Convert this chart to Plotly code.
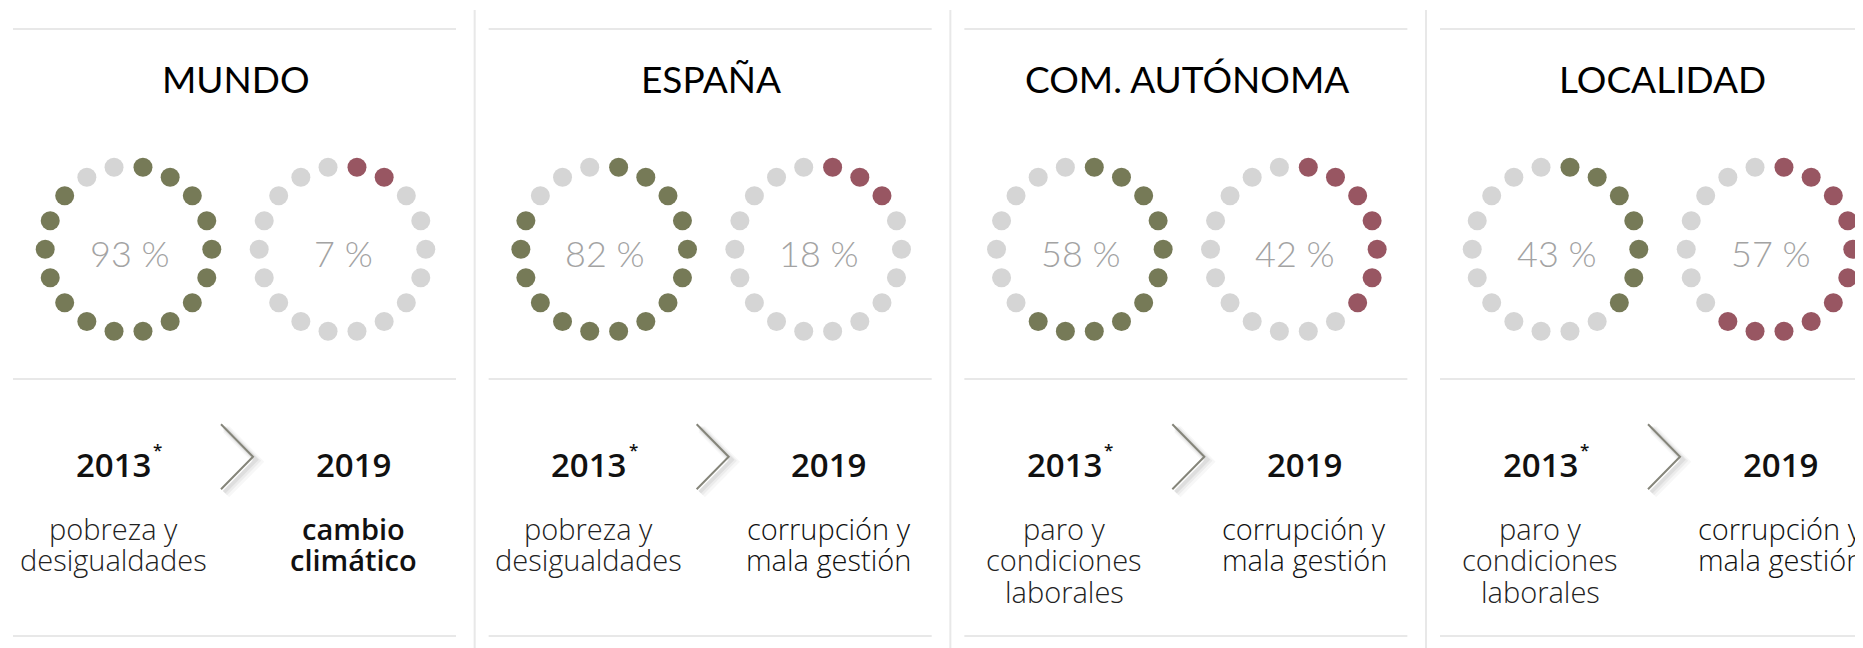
import math
import plotly.graph_objects as go

# ---------------- data ----------------
regions = ["MUNDO", "ESPAÑA", "COM. AUTÓNOMA", "LOCALIDAD"]
pct_2013 = [93, 82, 58, 43]
pct_2019 = [7, 18, 42, 57]
dots_2013 = [16, 15, 11, 7]     # filled dots (of 18) in the 2013 ring
dots_2019 = [2, 3, 7, 11]       # filled dots (of 18) in the 2019 ring
total_dots = 18
year_from = "2013"
year_to = "2019"
footnote_mark = "*"
issue_2013 = [
    ["pobreza y", "desigualdades"],
    ["pobreza y", "desigualdades"],
    ["paro y", "condiciones", "laborales"],
    ["paro y", "condiciones", "laborales"],
]
issue_2019 = [
    ["cambio", "climático"],
    ["corrupción y", "mala gestión"],
    ["corrupción y", "mala gestión"],
    ["corrupción y", "mala gestión"],
]
issue_2019_bold = [True, False, False, False]

# ---------------- style / layout ----------------
PAGE_W, PAGE_H = 1863, 648
BODY_MARGIN = 8   # default browser body margin around the plot div
GREEN = "#767a57"
RED = "#985662"
GREY = "#d5d5d5"
RULE = "#e8e8e8"
ARROW = "#85857a"

panel_x0 = [13 + i * 475.67 for i in range(4)]
panel_w = 443
ring_dx = (115.5, 329.5)
ring_cy = 249.3
ring_r = 83.3
dot_size = 19

fig = go.Figure()

def ring_points(cx, cy, n_total):
    xs, ys = [], []
    for k in range(n_total):
        a = math.radians(10 + 20 * k)
        xs.append(cx + ring_r * math.sin(a))
        ys.append(cy - ring_r * math.cos(a))
    return xs, ys

shapes = []
ann = []

for i, reg in enumerate(regions):
    x0 = panel_x0[i]
    # rings
    for j, (n_fill, col, pct) in enumerate(
        [(dots_2013[i], GREEN, pct_2013[i]), (dots_2019[i], RED, pct_2019[i])]
    ):
        cx = x0 + ring_dx[j]
        xs, ys = ring_points(cx, ring_cy, total_dots)
        colors = [col if k < n_fill else GREY for k in range(total_dots)]
        fig.add_trace(go.Scatter(
            x=xs, y=ys, mode="markers",
            marker=dict(size=dot_size, color=colors, line=dict(width=0)),
            hoverinfo="skip", showlegend=False,
        ))
        ann.append(dict(x=cx + 1, y=253, text=f"{pct} %", showarrow=False,
                        xanchor="center", yanchor="middle",
                        font=dict(family="Lato", size=36, color="#a3a3a3", weight=300)))
    # title
    ann.append(dict(x=x0 + panel_w / 2 + 1, y=78, text=reg, showarrow=False,
                    xanchor="center", yanchor="middle",
                    font=dict(family="Lato", size=37, color="#000000", weight=400)))
    # rules
    for yy in (29, 379, 636):
        shapes.append(dict(type="line", x0=x0, x1=x0 + panel_w, y0=yy, y1=yy,
                           line=dict(color=RULE, width=2)))
    if i > 0:
        shapes.append(dict(type="line", x0=x0 - 14, x1=x0 - 14, y0=10, y1=PAGE_H,
                           line=dict(color=RULE, width=2)))
    # arrow chevron with soft shadow
    ax0, ax1, aym, ah = x0 + 208, x0 + 240, 456.7, 32.5
    for off, w, op in [(5, 9, 0.03), (4, 6, 0.045), (3, 4, 0.06)]:
        shapes.append(dict(type="path",
                           path=f"M {ax0+off},{aym-ah+off} L {ax1+off},{aym+off} L {ax0+off},{aym+ah+off}",
                           line=dict(color=f"rgba(0,0,0,{op})", width=w)))
    shapes.append(dict(type="path",
                       path=f"M {ax0},{aym-ah} L {ax1},{aym} L {ax0},{aym+ah}",
                       line=dict(color=ARROW, width=2)))
    # years
    lx = x0 + 100
    rx = x0 + 340
    ann.append(dict(x=lx, y=464, text=year_from, showarrow=False,
                    xanchor="center", yanchor="middle",
                    font=dict(family="Open Sans", size=33, color="#111111", weight=600)))
    ann.append(dict(x=lx + 39, y=449, text=footnote_mark, showarrow=False,
                    xanchor="left", yanchor="middle", borderpad=0,
                    font=dict(family="Open Sans", size=17, color="#111111", weight=600)))
    ann.append(dict(x=rx, y=464, text=year_to, showarrow=False,
                    xanchor="center", yanchor="middle",
                    font=dict(family="Open Sans", size=33, color="#111111", weight=600)))
    # issues
    for k, line in enumerate(issue_2013[i]):
        ann.append(dict(x=lx, y=528 + 31.7 * k, text=line, showarrow=False,
                        xanchor="center", yanchor="middle",
                        font=dict(family="Open Sans", size=29, color="#222222", weight=300)))
    for k, line in enumerate(issue_2019[i]):
        ann.append(dict(x=rx, y=528 + 31.7 * k, text=line, showarrow=False,
                        xanchor="center", yanchor="middle",
                        font=dict(family="Open Sans", size=29, color="#111111",
                                  weight=600 if issue_2019_bold[i] else 300)))

# the plot div sits inside the page's default body margin: map data units to page pixels
fig.update_layout(
    width=PAGE_W - BODY_MARGIN, height=PAGE_H - BODY_MARGIN,
    margin=dict(l=0, r=0, t=0, b=0),
    paper_bgcolor="white", plot_bgcolor="white",
    xaxis=dict(range=[BODY_MARGIN, PAGE_W], visible=False, fixedrange=True),
    yaxis=dict(range=[PAGE_H, BODY_MARGIN], visible=False, fixedrange=True),
    shapes=shapes, annotations=ann,
    showlegend=False,
)

fig.write_html("out.html", config={"displayModeBar": False})
